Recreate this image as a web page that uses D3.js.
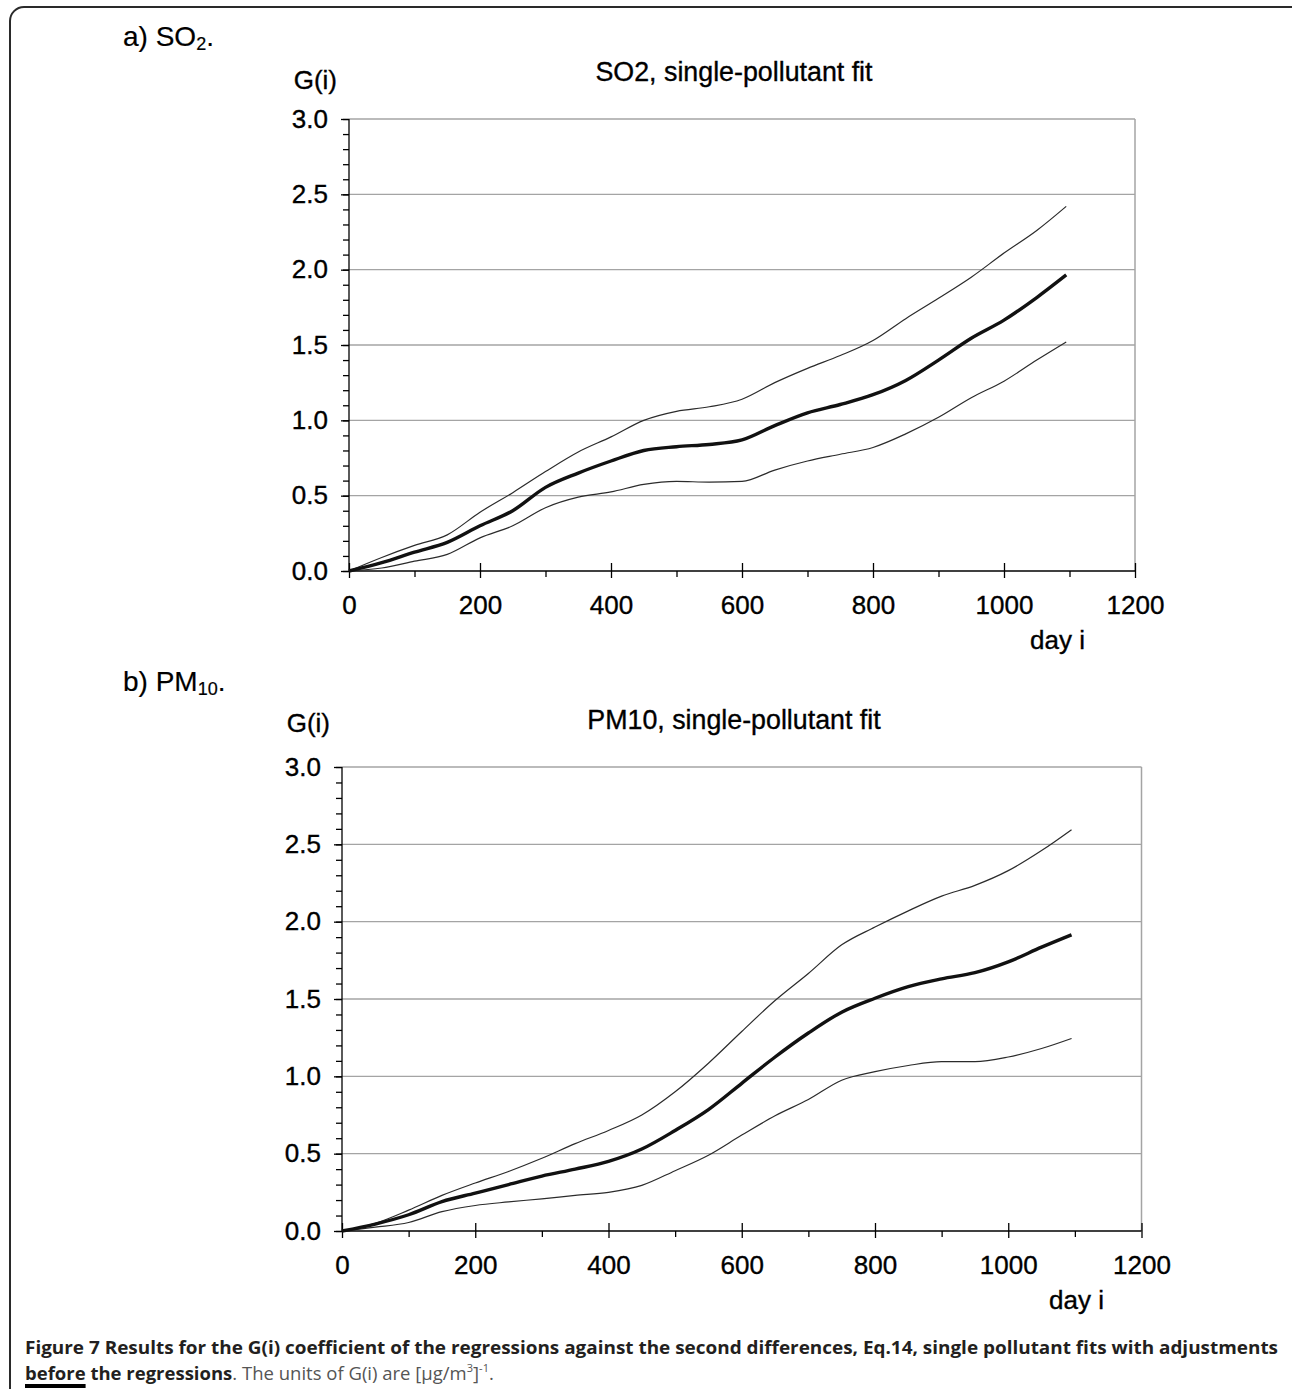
<!DOCTYPE html>
<html>
<head>
<meta charset="utf-8">
<script src="https://cdnjs.cloudflare.com/ajax/libs/d3/7.8.5/d3.min.js"></script>
<style>
  body { margin: 0; background: #fff; }
  svg text { font-family: "Liberation Sans", Arial, sans-serif; }
  .chart text { stroke: #000; stroke-width: 0.35px; }
</style>
</head>
<body>
<div id="svg-container"></div>
<script>
const w = 1292;
const h = 1389;

// day index shared by all six curves
const days = [0, 50, 100, 150, 200, 250, 300, 350, 400, 450, 500, 550,
              600, 650, 700, 750, 800, 850, 900, 950, 1000, 1050, 1095];

// a) SO2, single-pollutant fit
const so2Fit   = [0, 0.055, 0.125, 0.19, 0.30, 0.40, 0.555, 0.65, 0.73, 0.80, 0.825, 0.84,
                  0.87, 0.965, 1.05, 1.105, 1.17, 1.265, 1.40, 1.545, 1.665, 1.815, 1.965];
const so2Upper = [0, 0.09, 0.17, 0.24, 0.39, 0.52, 0.66, 0.79, 0.89, 1.00, 1.06, 1.09,
                  1.14, 1.25, 1.345, 1.43, 1.53, 1.675, 1.81, 1.95, 2.11, 2.26, 2.42];
const so2Lower = [0, 0.02, 0.065, 0.11, 0.22, 0.30, 0.42, 0.49, 0.525, 0.575, 0.595, 0.59,
                  0.595, 0.67, 0.73, 0.775, 0.82, 0.91, 1.02, 1.15, 1.26, 1.40, 1.52];

// b) PM10, single-pollutant fit
const pm10Fit   = [0, 0.045, 0.105, 0.19, 0.245, 0.30, 0.355, 0.40, 0.45, 0.53, 0.65, 0.785,
                   0.955, 1.125, 1.28, 1.415, 1.505, 1.58, 1.63, 1.67, 1.74, 1.835, 1.915];
const pm10Upper = [0, 0.05, 0.135, 0.23, 0.31, 0.385, 0.47, 0.565, 0.65, 0.75, 0.90, 1.085,
                   1.29, 1.49, 1.665, 1.85, 1.965, 2.07, 2.165, 2.235, 2.33, 2.46, 2.595];
const pm10Lower = [0, 0.025, 0.055, 0.125, 0.165, 0.188, 0.208, 0.23, 0.25, 0.295, 0.39, 0.49,
                   0.62, 0.745, 0.85, 0.975, 1.03, 1.07, 1.095, 1.095, 1.125, 1.18, 1.245];

const xTicks = [0, 200, 400, 600, 800, 1000, 1200];
const xMinorTicks = [100, 300, 500, 700, 900, 1100];
const yTicks = [0, 0.5, 1.0, 1.5, 2.0, 2.5, 3.0];

const svg = d3.select("#svg-container")
    .append("svg")
    .attr("width", w)
    .attr("height", h);

// rounded frame round the whole figure
svg.append("rect")
    .attr("x", 10).attr("y", 7)
    .attr("width", 1300).attr("height", 1420)
    .attr("rx", 14)
    .style("fill", "none")
    .style("stroke", "#2a2a2a")
    .style("stroke-width", 2);

function drawPanel(p) {
    const x = d3.scaleLinear().domain([0, 1200]).range([p.left, p.right]);
    const y = d3.scaleLinear().domain([0, 3]).range([p.bottom, p.top]);
    const g = svg.append("g").attr("class", "chart");

    // panel label, e.g. "a) SO2."
    const lab = g.append("text")
        .attr("x", 123).attr("y", p.labelY)
        .style("font-size", "28px")
        .style("stroke-width", "0.2px");
    lab.append("tspan").text(p.label[0]);
    lab.append("tspan").text(p.label[1]).style("font-size", "18px").attr("dy", 4);
    lab.append("tspan").text(".").attr("dy", -4);

    g.append("text")
        .attr("x", p.left - 12).attr("y", p.gLabelY)
        .attr("text-anchor", "end")
        .style("font-size", "26px")
        .text("G(i)");

    g.append("text")
        .attr("x", 734).attr("y", p.titleY)
        .attr("text-anchor", "middle")
        .style("font-size", "26.8px")
        .text(p.title);

    // horizontal grid + right border
    g.selectAll(".grid")
        .data(yTicks.slice(1))
        .enter()
        .append("line")
        .attr("x1", p.left).attr("x2", p.right)
        .attr("y1", d => y(d)).attr("y2", d => y(d))
        .style("stroke", "#a4a4a4")
        .style("stroke-width", 1.3);
    g.append("line")
        .attr("x1", p.right).attr("x2", p.right)
        .attr("y1", y(3)).attr("y2", y(0))
        .style("stroke", "#a4a4a4")
        .style("stroke-width", 1.5);

    // y axis, minor then major ticks
    g.append("g")
        .attr("transform", `translate(${p.left},0)`)
        .call(d3.axisLeft(y).tickValues(d3.range(0, 31).map(i => i / 10)).tickSize(6).tickFormat(""))
        .call(a => a.select(".domain").remove());
    g.append("g")
        .attr("transform", `translate(${p.left},0)`)
        .call(d3.axisLeft(y).tickValues(yTicks).tickSize(8).tickPadding(13).tickFormat(d3.format(".1f")))
        .call(a => a.selectAll("text").style("font-size", "26px").style("fill", "#000").attr("font-family", null))
        .call(a => a.select(".domain").attr("d", `M0,${y(3)}V${y(0)}`).style("stroke", "#000").style("stroke-width", 1.3));

    // x axis
    g.append("g")
        .attr("transform", `translate(0,${p.bottom})`)
        .call(d3.axisBottom(x).tickValues(xMinorTicks).tickSize(6).tickFormat(""))
        .call(a => a.select(".domain").remove());
    g.append("g")
        .attr("transform", `translate(0,${p.bottom})`)
        .call(d3.axisBottom(x).tickValues(xTicks).tickSize(7).tickPadding(18).tickFormat(d3.format("d")))
        .call(a => a.selectAll(".tick line").attr("y1", -8))
        .call(a => a.selectAll("text").style("font-size", "26px").style("fill", "#000").attr("font-family", null))
        .call(a => a.select(".domain").attr("d", `M${p.left},0H${p.right}`).style("stroke", "#000").style("stroke-width", 1.3));
    g.selectAll(".tick line").style("stroke-width", 1.3);

    g.append("text")
        .attr("x", p.dayX).attr("y", p.dayY)
        .attr("text-anchor", "end")
        .style("font-size", "26px")
        .text("day i");

    const line = d3.line()
        .x((d, i) => x(days[i]))
        .y(d => y(d))
        .curve(d3.curveMonotoneX);

    [p.upper, p.lower].forEach(s => {
        g.append("path")
            .attr("d", line(s))
            .style("fill", "none")
            .style("stroke", "#2b2b2b")
            .style("stroke-width", 1.2);
    });
    g.append("path")
        .attr("d", line(p.fit))
        .style("fill", "none")
        .style("stroke", "#111")
        .style("stroke-width", 3.4);
}

drawPanel({
    left: 349, right: 1135, top: 119, bottom: 571,
    label: ["a) SO", "2"], labelY: 46,
    gLabelY: 89, title: "SO2, single-pollutant fit", titleY: 81,
    dayX: 1085, dayY: 649,
    fit: so2Fit, upper: so2Upper, lower: so2Lower
});

drawPanel({
    left: 342, right: 1141.5, top: 767, bottom: 1231,
    label: ["b) PM", "10"], labelY: 691,
    gLabelY: 732, title: "PM10, single-pollutant fit", titleY: 729,
    dayX: 1104, dayY: 1309,
    fit: pm10Fit, upper: pm10Upper, lower: pm10Lower
});

// caption
const cap = svg.append("g").style("font-size", "18.5px");
cap.append("text")
    .attr("x", 25).attr("y", 1354)
    .attr("textLength", 1253)
    .attr("lengthAdjust", "spacingAndGlyphs")
    .style("font-family", "'Open Sans', sans-serif")
    .style("font-weight", "bold")
    .style("fill", "#231f20")
    .text("Figure 7 Results for the G(i) coefficient of the regressions against the second differences, Eq.14, single pollutant fits with adjustments");

const line2 = cap.append("text")
    .attr("x", 25).attr("y", 1380)
    .style("font-family", "'Open Sans', sans-serif");
const before = line2.append("tspan").style("font-weight", "bold").style("fill", "#231f20").text("before");
line2.append("tspan").style("font-weight", "bold").style("fill", "#231f20").text(" the regressions");
line2.append("tspan").style("fill", "#555").text(". The units of G(i) are [\u00b5g/m");
line2.append("tspan").style("fill", "#555").style("font-size", "11px").attr("dy", -8).text("3");
line2.append("tspan").style("fill", "#555").attr("dy", 8).text("]");
line2.append("tspan").style("fill", "#555").style("font-size", "11px").attr("dy", -8).text("-1");
line2.append("tspan").style("fill", "#555").attr("dy", 8).text(".");

const bw = before.node().getComputedTextLength();
cap.append("rect")
    .attr("x", 25).attr("y", 1384)
    .attr("width", bw).attr("height", 4)
    .style("fill", "#000");
</script>
</body>
</html>
